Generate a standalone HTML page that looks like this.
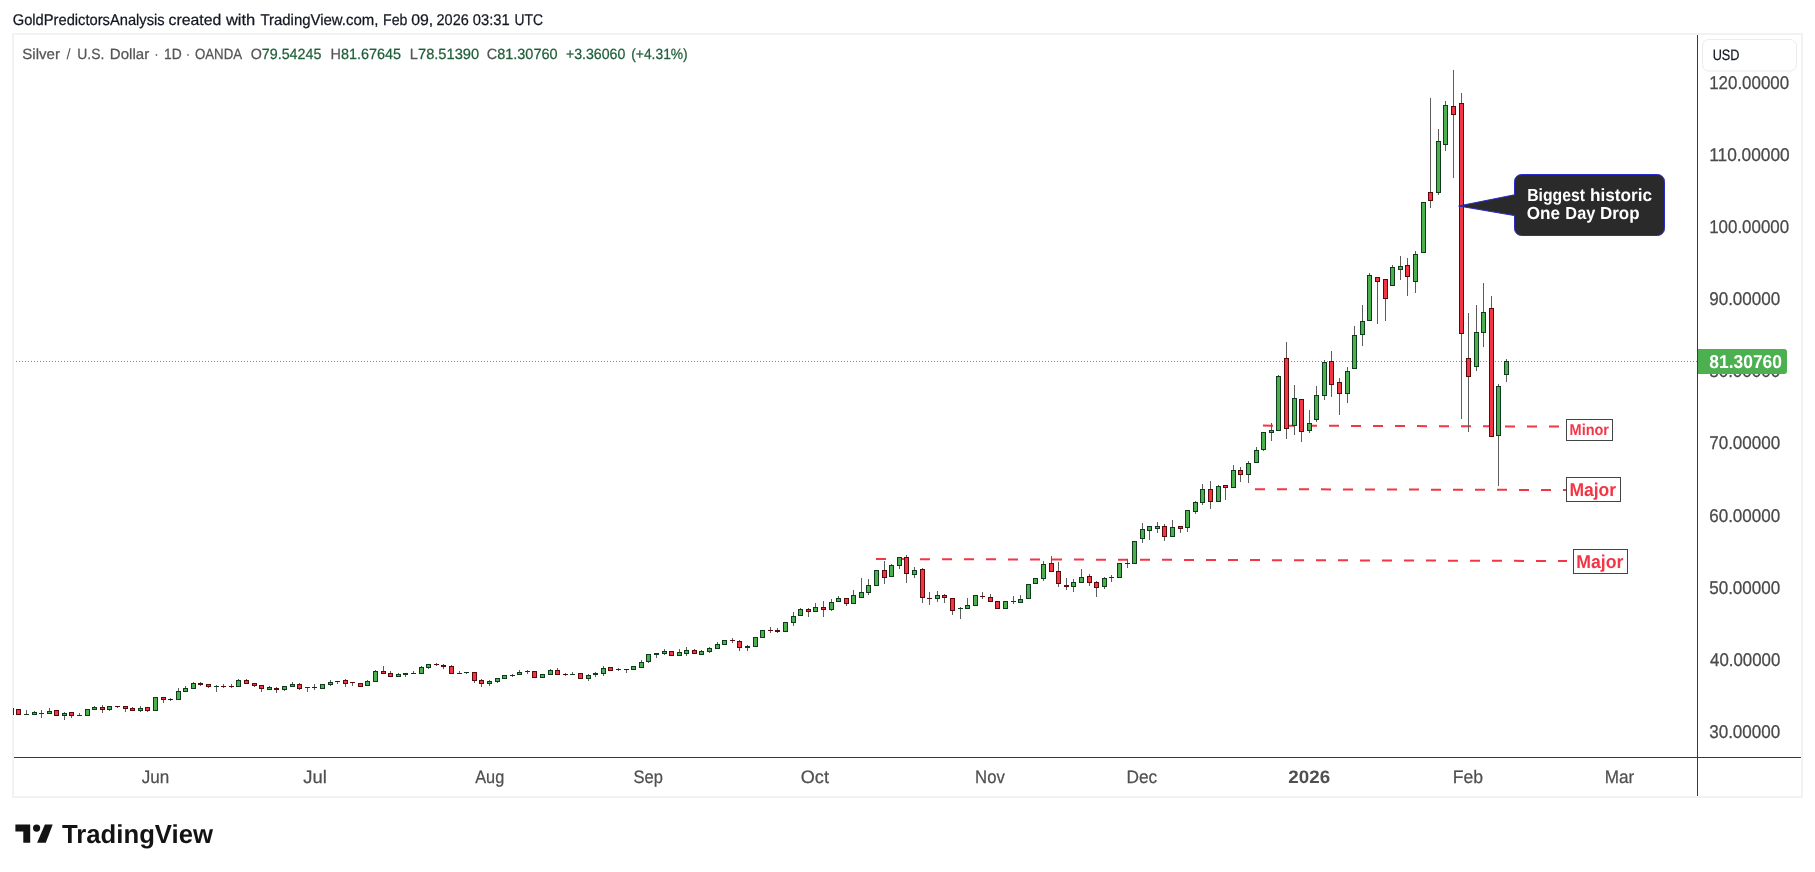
<!DOCTYPE html>
<html><head><meta charset="utf-8"><title>Silver / U.S. Dollar</title>
<style>html,body{margin:0;padding:0;background:#fff;width:1815px;height:872px;overflow:hidden;position:relative}</style>
</head><body>
<svg width="1815" height="872" viewBox="0 0 1815 872" style="position:absolute;left:0;top:0;font-family:'Liberation Sans', sans-serif;will-change:transform;text-rendering:geometricPrecision"><rect x="0" y="0" width="1815" height="872" fill="#ffffff"/><g shape-rendering="crispEdges"><rect x="12" y="33" width="1791" height="2" fill="#f2f2f2"/><rect x="12" y="33" width="2" height="765" fill="#f2f2f2"/><rect x="1801" y="33" width="2" height="765" fill="#f2f2f2"/><rect x="12" y="796" width="1791" height="2" fill="#f2f2f2"/></g><rect x="1702.5" y="39.5" width="94" height="31.5" rx="6.5" fill="#ffffff" stroke="#ebebeb" stroke-width="1"/><g shape-rendering="crispEdges"><rect x="1697" y="35" width="1" height="761" fill="#3a3a3a"/><rect x="14" y="757" width="1787" height="1" fill="#3a3a3a"/></g><line x1="16" y1="361.5" x2="1697" y2="361.5" stroke="#4caf50" stroke-width="1" stroke-dasharray="1 2"/><line x1="876" y1="559" x2="1567" y2="561" stroke="#f23645" stroke-width="2" stroke-dasharray="10 12"/><line x1="1263" y1="425.6" x2="1562" y2="426.6" stroke="#f23645" stroke-width="2" stroke-dasharray="10 12"/><line x1="1255" y1="489.2" x2="1566" y2="490" stroke="#f23645" stroke-width="2" stroke-dasharray="10 12"/><defs><clipPath id="pane"><rect x="13" y="35" width="1684" height="722"/></clipPath></defs><g shape-rendering="crispEdges" clip-path="url(#pane)"><rect x="11" y="708" width="1" height="7" fill="#5d5d5d"/><rect x="9" y="708" width="5" height="7" fill="#0e3b1c"/><rect x="10" y="709" width="3" height="5" fill="#4caf50"/><rect x="18" y="709" width="1" height="6" fill="#5d5d5d"/><rect x="16" y="709" width="5" height="6" fill="#5a0a0a"/><rect x="17" y="710" width="3" height="4" fill="#f23645"/><rect x="26" y="710" width="1" height="5" fill="#5d5d5d"/><rect x="24" y="714" width="5" height="1" fill="#0e3b1c"/><rect x="34" y="711" width="1" height="4" fill="#5d5d5d"/><rect x="32" y="712" width="5" height="3" fill="#0e3b1c"/><rect x="33" y="713" width="3" height="1" fill="#4caf50"/><rect x="41" y="710" width="1" height="8" fill="#5d5d5d"/><rect x="39" y="713" width="5" height="1" fill="#0e3b1c"/><rect x="49" y="708" width="1" height="6" fill="#5d5d5d"/><rect x="47" y="711" width="5" height="3" fill="#0e3b1c"/><rect x="48" y="712" width="3" height="1" fill="#4caf50"/><rect x="56" y="710" width="1" height="6" fill="#5d5d5d"/><rect x="54" y="710" width="5" height="6" fill="#5a0a0a"/><rect x="55" y="711" width="3" height="4" fill="#f23645"/><rect x="64" y="712" width="1" height="8" fill="#5d5d5d"/><rect x="62" y="713" width="5" height="3" fill="#0e3b1c"/><rect x="63" y="714" width="3" height="1" fill="#4caf50"/><rect x="71" y="712" width="1" height="6" fill="#5d5d5d"/><rect x="69" y="712" width="5" height="4" fill="#5a0a0a"/><rect x="70" y="713" width="3" height="2" fill="#f23645"/><rect x="79" y="713" width="1" height="3" fill="#5d5d5d"/><rect x="77" y="715" width="5" height="1" fill="#0e3b1c"/><rect x="87" y="709" width="1" height="7" fill="#5d5d5d"/><rect x="85" y="709" width="5" height="7" fill="#0e3b1c"/><rect x="86" y="710" width="3" height="5" fill="#4caf50"/><rect x="94" y="706" width="1" height="4" fill="#5d5d5d"/><rect x="92" y="707" width="5" height="3" fill="#0e3b1c"/><rect x="93" y="708" width="3" height="1" fill="#4caf50"/><rect x="102" y="705" width="1" height="8" fill="#5d5d5d"/><rect x="100" y="707" width="5" height="3" fill="#5a0a0a"/><rect x="101" y="708" width="3" height="1" fill="#f23645"/><rect x="109" y="706" width="1" height="5" fill="#5d5d5d"/><rect x="107" y="706" width="5" height="4" fill="#0e3b1c"/><rect x="108" y="707" width="3" height="2" fill="#4caf50"/><rect x="117" y="706" width="1" height="2" fill="#5d5d5d"/><rect x="115" y="706" width="5" height="1" fill="#5a0a0a"/><rect x="125" y="706" width="1" height="6" fill="#5d5d5d"/><rect x="123" y="706" width="5" height="3" fill="#5a0a0a"/><rect x="124" y="707" width="3" height="1" fill="#f23645"/><rect x="132" y="707" width="1" height="4" fill="#5d5d5d"/><rect x="130" y="708" width="5" height="3" fill="#5a0a0a"/><rect x="131" y="709" width="3" height="1" fill="#f23645"/><rect x="140" y="706" width="1" height="6" fill="#5d5d5d"/><rect x="138" y="708" width="5" height="3" fill="#0e3b1c"/><rect x="139" y="709" width="3" height="1" fill="#4caf50"/><rect x="147" y="707" width="1" height="5" fill="#5d5d5d"/><rect x="145" y="707" width="5" height="4" fill="#5a0a0a"/><rect x="146" y="708" width="3" height="2" fill="#f23645"/><rect x="155" y="697" width="1" height="14" fill="#5d5d5d"/><rect x="153" y="697" width="5" height="14" fill="#0e3b1c"/><rect x="154" y="698" width="3" height="12" fill="#4caf50"/><rect x="163" y="697" width="1" height="6" fill="#5d5d5d"/><rect x="161" y="697" width="5" height="3" fill="#5a0a0a"/><rect x="162" y="698" width="3" height="1" fill="#f23645"/><rect x="170" y="698" width="1" height="3" fill="#5d5d5d"/><rect x="168" y="699" width="5" height="1" fill="#5a0a0a"/><rect x="178" y="688" width="1" height="12" fill="#5d5d5d"/><rect x="176" y="691" width="5" height="9" fill="#0e3b1c"/><rect x="177" y="692" width="3" height="7" fill="#4caf50"/><rect x="185" y="686" width="1" height="6" fill="#5d5d5d"/><rect x="183" y="688" width="5" height="4" fill="#0e3b1c"/><rect x="184" y="689" width="3" height="2" fill="#4caf50"/><rect x="193" y="682" width="1" height="7" fill="#5d5d5d"/><rect x="191" y="683" width="5" height="6" fill="#0e3b1c"/><rect x="192" y="684" width="3" height="4" fill="#4caf50"/><rect x="200" y="682" width="1" height="4" fill="#5d5d5d"/><rect x="198" y="683" width="5" height="2" fill="#5a0a0a"/><rect x="208" y="684" width="1" height="4" fill="#5d5d5d"/><rect x="206" y="684" width="5" height="3" fill="#5a0a0a"/><rect x="207" y="685" width="3" height="1" fill="#f23645"/><rect x="216" y="685" width="1" height="7" fill="#5d5d5d"/><rect x="214" y="686" width="5" height="1" fill="#0e3b1c"/><rect x="223" y="684" width="1" height="4" fill="#5d5d5d"/><rect x="221" y="686" width="5" height="1" fill="#5a0a0a"/><rect x="231" y="684" width="1" height="4" fill="#5d5d5d"/><rect x="229" y="686" width="5" height="1" fill="#5a0a0a"/><rect x="238" y="679" width="1" height="8" fill="#5d5d5d"/><rect x="236" y="680" width="5" height="7" fill="#0e3b1c"/><rect x="237" y="681" width="3" height="5" fill="#4caf50"/><rect x="246" y="679" width="1" height="5" fill="#5d5d5d"/><rect x="244" y="680" width="5" height="4" fill="#5a0a0a"/><rect x="245" y="681" width="3" height="2" fill="#f23645"/><rect x="254" y="683" width="1" height="4" fill="#5d5d5d"/><rect x="252" y="683" width="5" height="3" fill="#5a0a0a"/><rect x="253" y="684" width="3" height="1" fill="#f23645"/><rect x="261" y="685" width="1" height="7" fill="#5d5d5d"/><rect x="259" y="685" width="5" height="4" fill="#5a0a0a"/><rect x="260" y="686" width="3" height="2" fill="#f23645"/><rect x="269" y="686" width="1" height="4" fill="#5d5d5d"/><rect x="267" y="687" width="5" height="3" fill="#0e3b1c"/><rect x="268" y="688" width="3" height="1" fill="#4caf50"/><rect x="276" y="687" width="1" height="6" fill="#5d5d5d"/><rect x="274" y="688" width="5" height="2" fill="#5a0a0a"/><rect x="284" y="686" width="1" height="5" fill="#5d5d5d"/><rect x="282" y="686" width="5" height="4" fill="#0e3b1c"/><rect x="283" y="687" width="3" height="2" fill="#4caf50"/><rect x="292" y="682" width="1" height="5" fill="#5d5d5d"/><rect x="290" y="684" width="5" height="3" fill="#0e3b1c"/><rect x="291" y="685" width="3" height="1" fill="#4caf50"/><rect x="299" y="683" width="1" height="7" fill="#5d5d5d"/><rect x="297" y="684" width="5" height="5" fill="#5a0a0a"/><rect x="298" y="685" width="3" height="3" fill="#f23645"/><rect x="307" y="687" width="1" height="5" fill="#5d5d5d"/><rect x="305" y="687" width="5" height="1" fill="#0e3b1c"/><rect x="314" y="684" width="1" height="6" fill="#5d5d5d"/><rect x="312" y="687" width="5" height="1" fill="#5a0a0a"/><rect x="322" y="684" width="1" height="5" fill="#5d5d5d"/><rect x="320" y="684" width="5" height="5" fill="#0e3b1c"/><rect x="321" y="685" width="3" height="3" fill="#4caf50"/><rect x="330" y="680" width="1" height="6" fill="#5d5d5d"/><rect x="328" y="682" width="5" height="3" fill="#0e3b1c"/><rect x="329" y="683" width="3" height="1" fill="#4caf50"/><rect x="337" y="681" width="1" height="3" fill="#5d5d5d"/><rect x="335" y="681" width="5" height="1" fill="#0e3b1c"/><rect x="345" y="679" width="1" height="8" fill="#5d5d5d"/><rect x="343" y="680" width="5" height="4" fill="#5a0a0a"/><rect x="344" y="681" width="3" height="2" fill="#f23645"/><rect x="352" y="682" width="1" height="4" fill="#5d5d5d"/><rect x="350" y="682" width="5" height="1" fill="#5a0a0a"/><rect x="360" y="683" width="1" height="4" fill="#5d5d5d"/><rect x="358" y="683" width="5" height="4" fill="#5a0a0a"/><rect x="359" y="684" width="3" height="2" fill="#f23645"/><rect x="367" y="680" width="1" height="6" fill="#5d5d5d"/><rect x="365" y="681" width="5" height="5" fill="#0e3b1c"/><rect x="366" y="682" width="3" height="3" fill="#4caf50"/><rect x="375" y="670" width="1" height="12" fill="#5d5d5d"/><rect x="373" y="671" width="5" height="11" fill="#0e3b1c"/><rect x="374" y="672" width="3" height="9" fill="#4caf50"/><rect x="383" y="666" width="1" height="8" fill="#5d5d5d"/><rect x="381" y="671" width="5" height="3" fill="#5a0a0a"/><rect x="382" y="672" width="3" height="1" fill="#f23645"/><rect x="390" y="671" width="1" height="6" fill="#5d5d5d"/><rect x="388" y="673" width="5" height="4" fill="#5a0a0a"/><rect x="389" y="674" width="3" height="2" fill="#f23645"/><rect x="398" y="673" width="1" height="4" fill="#5d5d5d"/><rect x="396" y="674" width="5" height="3" fill="#0e3b1c"/><rect x="397" y="675" width="3" height="1" fill="#4caf50"/><rect x="405" y="673" width="1" height="4" fill="#5d5d5d"/><rect x="403" y="673" width="5" height="2" fill="#0e3b1c"/><rect x="413" y="671" width="1" height="3" fill="#5d5d5d"/><rect x="411" y="673" width="5" height="1" fill="#0e3b1c"/><rect x="421" y="666" width="1" height="8" fill="#5d5d5d"/><rect x="419" y="667" width="5" height="7" fill="#0e3b1c"/><rect x="420" y="668" width="3" height="5" fill="#4caf50"/><rect x="428" y="664" width="1" height="5" fill="#5d5d5d"/><rect x="426" y="664" width="5" height="4" fill="#0e3b1c"/><rect x="427" y="665" width="3" height="2" fill="#4caf50"/><rect x="436" y="663" width="1" height="3" fill="#5d5d5d"/><rect x="434" y="664" width="5" height="1" fill="#5a0a0a"/><rect x="443" y="664" width="1" height="5" fill="#5d5d5d"/><rect x="441" y="665" width="5" height="2" fill="#5a0a0a"/><rect x="451" y="665" width="1" height="9" fill="#5d5d5d"/><rect x="449" y="666" width="5" height="8" fill="#5a0a0a"/><rect x="450" y="667" width="3" height="6" fill="#f23645"/><rect x="459" y="671" width="1" height="3" fill="#5d5d5d"/><rect x="457" y="673" width="5" height="1" fill="#0e3b1c"/><rect x="466" y="672" width="1" height="2" fill="#5d5d5d"/><rect x="464" y="672" width="5" height="1" fill="#0e3b1c"/><rect x="474" y="672" width="1" height="11" fill="#5d5d5d"/><rect x="472" y="672" width="5" height="9" fill="#5a0a0a"/><rect x="473" y="673" width="3" height="7" fill="#f23645"/><rect x="481" y="679" width="1" height="8" fill="#5d5d5d"/><rect x="479" y="680" width="5" height="4" fill="#5a0a0a"/><rect x="480" y="681" width="3" height="2" fill="#f23645"/><rect x="489" y="680" width="1" height="6" fill="#5d5d5d"/><rect x="487" y="681" width="5" height="3" fill="#0e3b1c"/><rect x="488" y="682" width="3" height="1" fill="#4caf50"/><rect x="497" y="678" width="1" height="5" fill="#5d5d5d"/><rect x="495" y="678" width="5" height="4" fill="#0e3b1c"/><rect x="496" y="679" width="3" height="2" fill="#4caf50"/><rect x="504" y="675" width="1" height="4" fill="#5d5d5d"/><rect x="502" y="675" width="5" height="4" fill="#0e3b1c"/><rect x="503" y="676" width="3" height="2" fill="#4caf50"/><rect x="512" y="674" width="1" height="3" fill="#5d5d5d"/><rect x="510" y="675" width="5" height="1" fill="#0e3b1c"/><rect x="519" y="670" width="1" height="5" fill="#5d5d5d"/><rect x="517" y="672" width="5" height="3" fill="#0e3b1c"/><rect x="518" y="673" width="3" height="1" fill="#4caf50"/><rect x="527" y="670" width="1" height="4" fill="#5d5d5d"/><rect x="525" y="671" width="5" height="1" fill="#0e3b1c"/><rect x="534" y="671" width="1" height="7" fill="#5d5d5d"/><rect x="532" y="671" width="5" height="7" fill="#5a0a0a"/><rect x="533" y="672" width="3" height="5" fill="#f23645"/><rect x="542" y="674" width="1" height="4" fill="#5d5d5d"/><rect x="540" y="674" width="5" height="4" fill="#0e3b1c"/><rect x="541" y="675" width="3" height="2" fill="#4caf50"/><rect x="550" y="669" width="1" height="6" fill="#5d5d5d"/><rect x="548" y="670" width="5" height="5" fill="#0e3b1c"/><rect x="549" y="671" width="3" height="3" fill="#4caf50"/><rect x="557" y="668" width="1" height="7" fill="#5d5d5d"/><rect x="555" y="670" width="5" height="5" fill="#5a0a0a"/><rect x="556" y="671" width="3" height="3" fill="#f23645"/><rect x="565" y="673" width="1" height="3" fill="#5d5d5d"/><rect x="563" y="674" width="5" height="1" fill="#5a0a0a"/><rect x="572" y="672" width="1" height="3" fill="#5d5d5d"/><rect x="570" y="674" width="5" height="1" fill="#0e3b1c"/><rect x="580" y="673" width="1" height="6" fill="#5d5d5d"/><rect x="578" y="673" width="5" height="6" fill="#5a0a0a"/><rect x="579" y="674" width="3" height="4" fill="#f23645"/><rect x="588" y="674" width="1" height="7" fill="#5d5d5d"/><rect x="586" y="675" width="5" height="4" fill="#0e3b1c"/><rect x="587" y="676" width="3" height="2" fill="#4caf50"/><rect x="595" y="672" width="1" height="5" fill="#5d5d5d"/><rect x="593" y="673" width="5" height="2" fill="#0e3b1c"/><rect x="603" y="666" width="1" height="10" fill="#5d5d5d"/><rect x="601" y="668" width="5" height="6" fill="#0e3b1c"/><rect x="602" y="669" width="3" height="4" fill="#4caf50"/><rect x="610" y="667" width="1" height="4" fill="#5d5d5d"/><rect x="608" y="667" width="5" height="4" fill="#5a0a0a"/><rect x="609" y="668" width="3" height="2" fill="#f23645"/><rect x="618" y="668" width="1" height="3" fill="#5d5d5d"/><rect x="616" y="669" width="5" height="1" fill="#0e3b1c"/><rect x="626" y="669" width="1" height="4" fill="#5d5d5d"/><rect x="624" y="669" width="5" height="1" fill="#5a0a0a"/><rect x="633" y="666" width="1" height="4" fill="#5d5d5d"/><rect x="631" y="666" width="5" height="4" fill="#0e3b1c"/><rect x="632" y="667" width="3" height="2" fill="#4caf50"/><rect x="641" y="660" width="1" height="8" fill="#5d5d5d"/><rect x="639" y="662" width="5" height="6" fill="#0e3b1c"/><rect x="640" y="663" width="3" height="4" fill="#4caf50"/><rect x="648" y="654" width="1" height="9" fill="#5d5d5d"/><rect x="646" y="654" width="5" height="8" fill="#0e3b1c"/><rect x="647" y="655" width="3" height="6" fill="#4caf50"/><rect x="656" y="653" width="1" height="5" fill="#5d5d5d"/><rect x="654" y="653" width="5" height="2" fill="#0e3b1c"/><rect x="664" y="649" width="1" height="6" fill="#5d5d5d"/><rect x="662" y="651" width="5" height="3" fill="#0e3b1c"/><rect x="663" y="652" width="3" height="1" fill="#4caf50"/><rect x="671" y="651" width="1" height="5" fill="#5d5d5d"/><rect x="669" y="651" width="5" height="5" fill="#5a0a0a"/><rect x="670" y="652" width="3" height="3" fill="#f23645"/><rect x="679" y="649" width="1" height="7" fill="#5d5d5d"/><rect x="677" y="652" width="5" height="4" fill="#0e3b1c"/><rect x="678" y="653" width="3" height="2" fill="#4caf50"/><rect x="686" y="647" width="1" height="9" fill="#5d5d5d"/><rect x="684" y="650" width="5" height="4" fill="#0e3b1c"/><rect x="685" y="651" width="3" height="2" fill="#4caf50"/><rect x="694" y="649" width="1" height="5" fill="#5d5d5d"/><rect x="692" y="650" width="5" height="4" fill="#5a0a0a"/><rect x="693" y="651" width="3" height="2" fill="#f23645"/><rect x="701" y="650" width="1" height="5" fill="#5d5d5d"/><rect x="699" y="651" width="5" height="4" fill="#0e3b1c"/><rect x="700" y="652" width="3" height="2" fill="#4caf50"/><rect x="709" y="647" width="1" height="6" fill="#5d5d5d"/><rect x="707" y="648" width="5" height="4" fill="#0e3b1c"/><rect x="708" y="649" width="3" height="2" fill="#4caf50"/><rect x="717" y="642" width="1" height="7" fill="#5d5d5d"/><rect x="715" y="644" width="5" height="5" fill="#0e3b1c"/><rect x="716" y="645" width="3" height="3" fill="#4caf50"/><rect x="724" y="640" width="1" height="5" fill="#5d5d5d"/><rect x="722" y="640" width="5" height="5" fill="#0e3b1c"/><rect x="723" y="641" width="3" height="3" fill="#4caf50"/><rect x="732" y="638" width="1" height="5" fill="#5d5d5d"/><rect x="730" y="640" width="5" height="1" fill="#5a0a0a"/><rect x="739" y="640" width="1" height="11" fill="#5d5d5d"/><rect x="737" y="641" width="5" height="7" fill="#5a0a0a"/><rect x="738" y="642" width="3" height="5" fill="#f23645"/><rect x="747" y="645" width="1" height="6" fill="#5d5d5d"/><rect x="745" y="646" width="5" height="2" fill="#0e3b1c"/><rect x="755" y="637" width="1" height="10" fill="#5d5d5d"/><rect x="753" y="637" width="5" height="10" fill="#0e3b1c"/><rect x="754" y="638" width="3" height="8" fill="#4caf50"/><rect x="762" y="630" width="1" height="8" fill="#5d5d5d"/><rect x="760" y="630" width="5" height="8" fill="#0e3b1c"/><rect x="761" y="631" width="3" height="6" fill="#4caf50"/><rect x="770" y="627" width="1" height="6" fill="#5d5d5d"/><rect x="768" y="630" width="5" height="1" fill="#5a0a0a"/><rect x="777" y="628" width="1" height="5" fill="#5d5d5d"/><rect x="775" y="630" width="5" height="2" fill="#5a0a0a"/><rect x="785" y="622" width="1" height="10" fill="#5d5d5d"/><rect x="783" y="622" width="5" height="10" fill="#0e3b1c"/><rect x="784" y="623" width="3" height="8" fill="#4caf50"/><rect x="793" y="612" width="1" height="14" fill="#5d5d5d"/><rect x="791" y="616" width="5" height="7" fill="#0e3b1c"/><rect x="792" y="617" width="3" height="5" fill="#4caf50"/><rect x="800" y="608" width="1" height="8" fill="#5d5d5d"/><rect x="798" y="609" width="5" height="7" fill="#0e3b1c"/><rect x="799" y="610" width="3" height="5" fill="#4caf50"/><rect x="808" y="608" width="1" height="9" fill="#5d5d5d"/><rect x="806" y="609" width="5" height="3" fill="#5a0a0a"/><rect x="807" y="610" width="3" height="1" fill="#f23645"/><rect x="815" y="603" width="1" height="9" fill="#5d5d5d"/><rect x="813" y="607" width="5" height="5" fill="#0e3b1c"/><rect x="814" y="608" width="3" height="3" fill="#4caf50"/><rect x="823" y="601" width="1" height="16" fill="#5d5d5d"/><rect x="821" y="607" width="5" height="3" fill="#5a0a0a"/><rect x="822" y="608" width="3" height="1" fill="#f23645"/><rect x="831" y="599" width="1" height="12" fill="#5d5d5d"/><rect x="829" y="602" width="5" height="8" fill="#0e3b1c"/><rect x="830" y="603" width="3" height="6" fill="#4caf50"/><rect x="838" y="596" width="1" height="6" fill="#5d5d5d"/><rect x="836" y="598" width="5" height="4" fill="#0e3b1c"/><rect x="837" y="599" width="3" height="2" fill="#4caf50"/><rect x="846" y="598" width="1" height="8" fill="#5d5d5d"/><rect x="844" y="598" width="5" height="6" fill="#5a0a0a"/><rect x="845" y="599" width="3" height="4" fill="#f23645"/><rect x="853" y="590" width="1" height="14" fill="#5d5d5d"/><rect x="851" y="595" width="5" height="9" fill="#0e3b1c"/><rect x="852" y="596" width="3" height="7" fill="#4caf50"/><rect x="861" y="578" width="1" height="20" fill="#5d5d5d"/><rect x="859" y="592" width="5" height="6" fill="#0e3b1c"/><rect x="860" y="593" width="3" height="4" fill="#4caf50"/><rect x="868" y="579" width="1" height="16" fill="#5d5d5d"/><rect x="866" y="585" width="5" height="8" fill="#0e3b1c"/><rect x="867" y="586" width="3" height="6" fill="#4caf50"/><rect x="876" y="570" width="1" height="16" fill="#5d5d5d"/><rect x="874" y="570" width="5" height="16" fill="#0e3b1c"/><rect x="875" y="571" width="3" height="14" fill="#4caf50"/><rect x="884" y="561" width="1" height="23" fill="#5d5d5d"/><rect x="882" y="570" width="5" height="8" fill="#5a0a0a"/><rect x="883" y="571" width="3" height="6" fill="#f23645"/><rect x="891" y="564" width="1" height="13" fill="#5d5d5d"/><rect x="889" y="565" width="5" height="12" fill="#0e3b1c"/><rect x="890" y="566" width="3" height="10" fill="#4caf50"/><rect x="899" y="557" width="1" height="12" fill="#5d5d5d"/><rect x="897" y="557" width="5" height="9" fill="#0e3b1c"/><rect x="898" y="558" width="3" height="7" fill="#4caf50"/><rect x="906" y="555" width="1" height="28" fill="#5d5d5d"/><rect x="904" y="557" width="5" height="17" fill="#5a0a0a"/><rect x="905" y="558" width="3" height="15" fill="#f23645"/><rect x="914" y="567" width="1" height="11" fill="#5d5d5d"/><rect x="912" y="570" width="5" height="5" fill="#0e3b1c"/><rect x="913" y="571" width="3" height="3" fill="#4caf50"/><rect x="922" y="568" width="1" height="35" fill="#5d5d5d"/><rect x="920" y="569" width="5" height="29" fill="#5a0a0a"/><rect x="921" y="570" width="3" height="27" fill="#f23645"/><rect x="929" y="592" width="1" height="13" fill="#5d5d5d"/><rect x="927" y="598" width="5" height="1" fill="#5a0a0a"/><rect x="937" y="591" width="1" height="11" fill="#5d5d5d"/><rect x="935" y="595" width="5" height="4" fill="#0e3b1c"/><rect x="936" y="596" width="3" height="2" fill="#4caf50"/><rect x="944" y="594" width="1" height="9" fill="#5d5d5d"/><rect x="942" y="595" width="5" height="3" fill="#5a0a0a"/><rect x="943" y="596" width="3" height="1" fill="#f23645"/><rect x="952" y="598" width="1" height="17" fill="#5d5d5d"/><rect x="950" y="598" width="5" height="13" fill="#5a0a0a"/><rect x="951" y="599" width="3" height="11" fill="#f23645"/><rect x="960" y="607" width="1" height="12" fill="#5d5d5d"/><rect x="958" y="608" width="5" height="1" fill="#0e3b1c"/><rect x="967" y="598" width="1" height="11" fill="#5d5d5d"/><rect x="965" y="605" width="5" height="4" fill="#0e3b1c"/><rect x="966" y="606" width="3" height="2" fill="#4caf50"/><rect x="975" y="595" width="1" height="11" fill="#5d5d5d"/><rect x="973" y="595" width="5" height="11" fill="#0e3b1c"/><rect x="974" y="596" width="3" height="9" fill="#4caf50"/><rect x="982" y="592" width="1" height="7" fill="#5d5d5d"/><rect x="980" y="596" width="5" height="1" fill="#5a0a0a"/><rect x="990" y="594" width="1" height="8" fill="#5d5d5d"/><rect x="988" y="597" width="5" height="5" fill="#5a0a0a"/><rect x="989" y="598" width="3" height="3" fill="#f23645"/><rect x="997" y="601" width="1" height="8" fill="#5d5d5d"/><rect x="995" y="601" width="5" height="8" fill="#5a0a0a"/><rect x="996" y="602" width="3" height="6" fill="#f23645"/><rect x="1005" y="601" width="1" height="8" fill="#5d5d5d"/><rect x="1003" y="601" width="5" height="8" fill="#0e3b1c"/><rect x="1004" y="602" width="3" height="6" fill="#4caf50"/><rect x="1013" y="596" width="1" height="8" fill="#5d5d5d"/><rect x="1011" y="601" width="5" height="1" fill="#0e3b1c"/><rect x="1020" y="595" width="1" height="8" fill="#5d5d5d"/><rect x="1018" y="599" width="5" height="4" fill="#0e3b1c"/><rect x="1019" y="600" width="3" height="2" fill="#4caf50"/><rect x="1028" y="584" width="1" height="15" fill="#5d5d5d"/><rect x="1026" y="584" width="5" height="15" fill="#0e3b1c"/><rect x="1027" y="585" width="3" height="13" fill="#4caf50"/><rect x="1035" y="578" width="1" height="6" fill="#5d5d5d"/><rect x="1033" y="578" width="5" height="6" fill="#0e3b1c"/><rect x="1034" y="579" width="3" height="4" fill="#4caf50"/><rect x="1043" y="561" width="1" height="20" fill="#5d5d5d"/><rect x="1041" y="564" width="5" height="15" fill="#0e3b1c"/><rect x="1042" y="565" width="3" height="13" fill="#4caf50"/><rect x="1051" y="556" width="1" height="16" fill="#5d5d5d"/><rect x="1049" y="563" width="5" height="9" fill="#5a0a0a"/><rect x="1050" y="564" width="3" height="7" fill="#f23645"/><rect x="1058" y="562" width="1" height="25" fill="#5d5d5d"/><rect x="1056" y="571" width="5" height="13" fill="#5a0a0a"/><rect x="1057" y="572" width="3" height="11" fill="#f23645"/><rect x="1066" y="578" width="1" height="12" fill="#5d5d5d"/><rect x="1064" y="585" width="5" height="2" fill="#5a0a0a"/><rect x="1073" y="579" width="1" height="13" fill="#5d5d5d"/><rect x="1071" y="582" width="5" height="5" fill="#0e3b1c"/><rect x="1072" y="583" width="3" height="3" fill="#4caf50"/><rect x="1081" y="569" width="1" height="14" fill="#5d5d5d"/><rect x="1079" y="577" width="5" height="6" fill="#0e3b1c"/><rect x="1080" y="578" width="3" height="4" fill="#4caf50"/><rect x="1089" y="574" width="1" height="12" fill="#5d5d5d"/><rect x="1087" y="576" width="5" height="7" fill="#5a0a0a"/><rect x="1088" y="577" width="3" height="5" fill="#f23645"/><rect x="1096" y="581" width="1" height="16" fill="#5d5d5d"/><rect x="1094" y="582" width="5" height="6" fill="#5a0a0a"/><rect x="1095" y="583" width="3" height="4" fill="#f23645"/><rect x="1104" y="577" width="1" height="12" fill="#5d5d5d"/><rect x="1102" y="578" width="5" height="9" fill="#0e3b1c"/><rect x="1103" y="579" width="3" height="7" fill="#4caf50"/><rect x="1111" y="575" width="1" height="7" fill="#5d5d5d"/><rect x="1109" y="577" width="5" height="1" fill="#0e3b1c"/><rect x="1119" y="563" width="1" height="15" fill="#5d5d5d"/><rect x="1117" y="563" width="5" height="15" fill="#0e3b1c"/><rect x="1118" y="564" width="3" height="13" fill="#4caf50"/><rect x="1127" y="559" width="1" height="9" fill="#5d5d5d"/><rect x="1125" y="563" width="5" height="1" fill="#0e3b1c"/><rect x="1134" y="541" width="1" height="23" fill="#5d5d5d"/><rect x="1132" y="541" width="5" height="23" fill="#0e3b1c"/><rect x="1133" y="542" width="3" height="21" fill="#4caf50"/><rect x="1142" y="523" width="1" height="20" fill="#5d5d5d"/><rect x="1140" y="529" width="5" height="10" fill="#0e3b1c"/><rect x="1141" y="530" width="3" height="8" fill="#4caf50"/><rect x="1149" y="526" width="1" height="14" fill="#5d5d5d"/><rect x="1147" y="526" width="5" height="5" fill="#0e3b1c"/><rect x="1148" y="527" width="3" height="3" fill="#4caf50"/><rect x="1157" y="522" width="1" height="11" fill="#5d5d5d"/><rect x="1155" y="526" width="5" height="3" fill="#0e3b1c"/><rect x="1156" y="527" width="3" height="1" fill="#4caf50"/><rect x="1164" y="524" width="1" height="17" fill="#5d5d5d"/><rect x="1162" y="526" width="5" height="11" fill="#5a0a0a"/><rect x="1163" y="527" width="3" height="9" fill="#f23645"/><rect x="1172" y="520" width="1" height="17" fill="#5d5d5d"/><rect x="1170" y="527" width="5" height="10" fill="#0e3b1c"/><rect x="1171" y="528" width="3" height="8" fill="#4caf50"/><rect x="1180" y="526" width="1" height="7" fill="#5d5d5d"/><rect x="1178" y="526" width="5" height="3" fill="#5a0a0a"/><rect x="1179" y="527" width="3" height="1" fill="#f23645"/><rect x="1187" y="510" width="1" height="22" fill="#5d5d5d"/><rect x="1185" y="510" width="5" height="18" fill="#0e3b1c"/><rect x="1186" y="511" width="3" height="16" fill="#4caf50"/><rect x="1195" y="501" width="1" height="13" fill="#5d5d5d"/><rect x="1193" y="502" width="5" height="10" fill="#0e3b1c"/><rect x="1194" y="503" width="3" height="8" fill="#4caf50"/><rect x="1202" y="484" width="1" height="21" fill="#5d5d5d"/><rect x="1200" y="489" width="5" height="14" fill="#0e3b1c"/><rect x="1201" y="490" width="3" height="12" fill="#4caf50"/><rect x="1210" y="481" width="1" height="28" fill="#5d5d5d"/><rect x="1208" y="489" width="5" height="13" fill="#5a0a0a"/><rect x="1209" y="490" width="3" height="11" fill="#f23645"/><rect x="1218" y="485" width="1" height="17" fill="#5d5d5d"/><rect x="1216" y="486" width="5" height="16" fill="#0e3b1c"/><rect x="1217" y="487" width="3" height="14" fill="#4caf50"/><rect x="1225" y="485" width="1" height="15" fill="#5d5d5d"/><rect x="1223" y="485" width="5" height="3" fill="#5a0a0a"/><rect x="1224" y="486" width="3" height="1" fill="#f23645"/><rect x="1233" y="465" width="1" height="23" fill="#5d5d5d"/><rect x="1231" y="470" width="5" height="18" fill="#0e3b1c"/><rect x="1232" y="471" width="3" height="16" fill="#4caf50"/><rect x="1240" y="467" width="1" height="15" fill="#5d5d5d"/><rect x="1238" y="470" width="5" height="5" fill="#5a0a0a"/><rect x="1239" y="471" width="3" height="3" fill="#f23645"/><rect x="1248" y="461" width="1" height="22" fill="#5d5d5d"/><rect x="1246" y="463" width="5" height="12" fill="#0e3b1c"/><rect x="1247" y="464" width="3" height="10" fill="#4caf50"/><rect x="1256" y="447" width="1" height="16" fill="#5d5d5d"/><rect x="1254" y="450" width="5" height="13" fill="#0e3b1c"/><rect x="1255" y="451" width="3" height="11" fill="#4caf50"/><rect x="1263" y="432" width="1" height="19" fill="#5d5d5d"/><rect x="1261" y="432" width="5" height="18" fill="#0e3b1c"/><rect x="1262" y="433" width="3" height="16" fill="#4caf50"/><rect x="1271" y="423" width="1" height="18" fill="#5d5d5d"/><rect x="1269" y="430" width="5" height="3" fill="#0e3b1c"/><rect x="1270" y="431" width="3" height="1" fill="#4caf50"/><rect x="1278" y="375" width="1" height="56" fill="#5d5d5d"/><rect x="1276" y="376" width="5" height="55" fill="#0e3b1c"/><rect x="1277" y="377" width="3" height="53" fill="#4caf50"/><rect x="1286" y="342" width="1" height="97" fill="#5d5d5d"/><rect x="1284" y="358" width="5" height="71" fill="#5a0a0a"/><rect x="1285" y="359" width="3" height="69" fill="#f23645"/><rect x="1294" y="385" width="1" height="50" fill="#5d5d5d"/><rect x="1292" y="398" width="5" height="28" fill="#0e3b1c"/><rect x="1293" y="399" width="3" height="26" fill="#4caf50"/><rect x="1301" y="399" width="1" height="43" fill="#5d5d5d"/><rect x="1299" y="399" width="5" height="33" fill="#5a0a0a"/><rect x="1300" y="400" width="3" height="31" fill="#f23645"/><rect x="1309" y="410" width="1" height="23" fill="#5d5d5d"/><rect x="1307" y="423" width="5" height="8" fill="#0e3b1c"/><rect x="1308" y="424" width="3" height="6" fill="#4caf50"/><rect x="1316" y="386" width="1" height="36" fill="#5d5d5d"/><rect x="1314" y="395" width="5" height="25" fill="#0e3b1c"/><rect x="1315" y="396" width="3" height="23" fill="#4caf50"/><rect x="1324" y="360" width="1" height="40" fill="#5d5d5d"/><rect x="1322" y="362" width="5" height="34" fill="#0e3b1c"/><rect x="1323" y="363" width="3" height="32" fill="#4caf50"/><rect x="1331" y="351" width="1" height="46" fill="#5d5d5d"/><rect x="1329" y="361" width="5" height="24" fill="#5a0a0a"/><rect x="1330" y="362" width="3" height="22" fill="#f23645"/><rect x="1339" y="378" width="1" height="37" fill="#5d5d5d"/><rect x="1337" y="382" width="5" height="12" fill="#5a0a0a"/><rect x="1338" y="383" width="3" height="10" fill="#f23645"/><rect x="1347" y="367" width="1" height="36" fill="#5d5d5d"/><rect x="1345" y="371" width="5" height="23" fill="#0e3b1c"/><rect x="1346" y="372" width="3" height="21" fill="#4caf50"/><rect x="1354" y="326" width="1" height="43" fill="#5d5d5d"/><rect x="1352" y="335" width="5" height="34" fill="#0e3b1c"/><rect x="1353" y="336" width="3" height="32" fill="#4caf50"/><rect x="1362" y="305" width="1" height="41" fill="#5d5d5d"/><rect x="1360" y="321" width="5" height="14" fill="#0e3b1c"/><rect x="1361" y="322" width="3" height="12" fill="#4caf50"/><rect x="1369" y="273" width="1" height="48" fill="#5d5d5d"/><rect x="1367" y="275" width="5" height="46" fill="#0e3b1c"/><rect x="1368" y="276" width="3" height="44" fill="#4caf50"/><rect x="1377" y="277" width="1" height="47" fill="#5d5d5d"/><rect x="1375" y="277" width="5" height="5" fill="#5a0a0a"/><rect x="1376" y="278" width="3" height="3" fill="#f23645"/><rect x="1385" y="279" width="1" height="42" fill="#5d5d5d"/><rect x="1383" y="279" width="5" height="20" fill="#5a0a0a"/><rect x="1384" y="280" width="3" height="18" fill="#f23645"/><rect x="1392" y="265" width="1" height="21" fill="#5d5d5d"/><rect x="1390" y="267" width="5" height="19" fill="#0e3b1c"/><rect x="1391" y="268" width="3" height="17" fill="#4caf50"/><rect x="1400" y="256" width="1" height="24" fill="#5d5d5d"/><rect x="1398" y="266" width="5" height="4" fill="#0e3b1c"/><rect x="1399" y="267" width="3" height="2" fill="#4caf50"/><rect x="1407" y="258" width="1" height="38" fill="#5d5d5d"/><rect x="1405" y="265" width="5" height="12" fill="#5a0a0a"/><rect x="1406" y="266" width="3" height="10" fill="#f23645"/><rect x="1415" y="251" width="1" height="42" fill="#5d5d5d"/><rect x="1413" y="254" width="5" height="28" fill="#0e3b1c"/><rect x="1414" y="255" width="3" height="26" fill="#4caf50"/><rect x="1423" y="202" width="1" height="51" fill="#5d5d5d"/><rect x="1421" y="202" width="5" height="51" fill="#0e3b1c"/><rect x="1422" y="203" width="3" height="49" fill="#4caf50"/><rect x="1430" y="98" width="1" height="110" fill="#5d5d5d"/><rect x="1428" y="192" width="5" height="9" fill="#5a0a0a"/><rect x="1429" y="193" width="3" height="7" fill="#f23645"/><rect x="1438" y="129" width="1" height="66" fill="#5d5d5d"/><rect x="1436" y="141" width="5" height="52" fill="#0e3b1c"/><rect x="1437" y="142" width="3" height="50" fill="#4caf50"/><rect x="1445" y="101" width="1" height="50" fill="#5d5d5d"/><rect x="1443" y="105" width="5" height="40" fill="#0e3b1c"/><rect x="1444" y="106" width="3" height="38" fill="#4caf50"/><rect x="1453" y="70" width="1" height="108" fill="#5d5d5d"/><rect x="1451" y="106" width="5" height="9" fill="#5a0a0a"/><rect x="1452" y="107" width="3" height="7" fill="#f23645"/><rect x="1461" y="93" width="1" height="326" fill="#5d5d5d"/><rect x="1459" y="103" width="5" height="231" fill="#5a0a0a"/><rect x="1460" y="104" width="3" height="229" fill="#f23645"/><rect x="1468" y="313" width="1" height="119" fill="#5d5d5d"/><rect x="1466" y="358" width="5" height="19" fill="#5a0a0a"/><rect x="1467" y="359" width="3" height="17" fill="#f23645"/><rect x="1476" y="305" width="1" height="66" fill="#5d5d5d"/><rect x="1474" y="332" width="5" height="35" fill="#0e3b1c"/><rect x="1475" y="333" width="3" height="33" fill="#4caf50"/><rect x="1483" y="283" width="1" height="64" fill="#5d5d5d"/><rect x="1481" y="312" width="5" height="21" fill="#0e3b1c"/><rect x="1482" y="313" width="3" height="19" fill="#4caf50"/><rect x="1491" y="296" width="1" height="141" fill="#5d5d5d"/><rect x="1489" y="308" width="5" height="129" fill="#5a0a0a"/><rect x="1490" y="309" width="3" height="127" fill="#f23645"/><rect x="1498" y="384" width="1" height="102" fill="#5d5d5d"/><rect x="1496" y="386" width="5" height="50" fill="#0e3b1c"/><rect x="1497" y="387" width="3" height="48" fill="#4caf50"/><rect x="1506" y="359" width="1" height="23" fill="#5d5d5d"/><rect x="1504" y="361" width="5" height="14" fill="#0e3b1c"/><rect x="1505" y="362" width="3" height="12" fill="#4caf50"/></g><path d="M1521.5 174.5 H1657.5 a7 7 0 0 1 7 7 V228.5 a7 7 0 0 1 -7 7 H1521.5 a7 7 0 0 1 -7 -7 V215.6 L1458.6 206 L1514.5 194.8 V181.5 a7 7 0 0 1 7 -7 Z" fill="#2a2a2a" stroke="#2a2acc" stroke-width="1"/><rect x="1566.5" y="419.5" width="46.0" height="21.0" fill="#ffffff" stroke="#444444" stroke-width="1"/><rect x="1566.5" y="477.5" width="54.0" height="24.0" fill="#ffffff" stroke="#444444" stroke-width="1"/><rect x="1573.5" y="549.5" width="54.0" height="24.0" fill="#ffffff" stroke="#444444" stroke-width="1"/><g fill="#131313"><path d="M15.4 824.4 H30.2 V842.8 H23.3 V831.5 H15.4 Z"/><circle cx="36.6" cy="828.1" r="3.6"/><path d="M44.9 824.4 H52.7 L45.8 842.8 H37.1 Z"/></g><text x="12.75" y="24.9" font-size="15.5" font-weight="normal" fill="#131722" stroke="#131722" stroke-width="0.25" textLength="151.87" lengthAdjust="spacingAndGlyphs">GoldPredictorsAnalysis</text><text x="168.58" y="24.9" font-size="15.5" font-weight="normal" fill="#131722" stroke="#131722" stroke-width="0.25" textLength="52.74" lengthAdjust="spacingAndGlyphs">created</text><text x="225.9" y="24.9" font-size="15.5" font-weight="normal" fill="#131722" stroke="#131722" stroke-width="0.25" textLength="29.42" lengthAdjust="spacingAndGlyphs">with</text><text x="260.4" y="24.9" font-size="15.5" font-weight="normal" fill="#131722" stroke="#131722" stroke-width="0.25" textLength="118.0" lengthAdjust="spacingAndGlyphs">TradingView.com,</text><text x="383.09" y="24.9" font-size="15.5" font-weight="normal" fill="#131722" stroke="#131722" stroke-width="0.25" textLength="24.37" lengthAdjust="spacingAndGlyphs">Feb</text><text x="411.18" y="24.9" font-size="15.5" font-weight="normal" fill="#131722" stroke="#131722" stroke-width="0.25" textLength="22.02" lengthAdjust="spacingAndGlyphs">09,</text><text x="436.57" y="24.9" font-size="15.5" font-weight="normal" fill="#131722" stroke="#131722" stroke-width="0.25" textLength="32.19" lengthAdjust="spacingAndGlyphs">2026</text><text x="472.85" y="24.9" font-size="15.5" font-weight="normal" fill="#131722" stroke="#131722" stroke-width="0.25" textLength="36.91" lengthAdjust="spacingAndGlyphs">03:31</text><text x="514.51" y="24.9" font-size="15.5" font-weight="normal" fill="#131722" stroke="#131722" stroke-width="0.25" textLength="28.46" lengthAdjust="spacingAndGlyphs">UTC</text><text x="22.28" y="59.0" font-size="14.8" font-weight="normal" fill="#555555" stroke="#555555" stroke-width="0.25" textLength="37.72" lengthAdjust="spacingAndGlyphs">Silver</text><text x="68.48" y="59.0" font-size="14.8" fill="#555555" text-anchor="middle">/</text><text x="77.26" y="59.0" font-size="14.8" font-weight="normal" fill="#555555" stroke="#555555" stroke-width="0.25" textLength="27.08" lengthAdjust="spacingAndGlyphs">U.S.</text><text x="109.88" y="59.0" font-size="14.8" font-weight="normal" fill="#555555" stroke="#555555" stroke-width="0.25" textLength="39.27" lengthAdjust="spacingAndGlyphs">Dollar</text><text x="156.58" y="59.0" font-size="14.8" fill="#555555" text-anchor="middle">·</text><text x="164.06" y="59.0" font-size="14.8" font-weight="normal" fill="#555555" stroke="#555555" stroke-width="0.25" textLength="17.7" lengthAdjust="spacingAndGlyphs">1D</text><text x="187.98" y="59.0" font-size="14.8" fill="#555555" text-anchor="middle">·</text><text x="194.9" y="59.0" font-size="14.8" font-weight="normal" fill="#555555" stroke="#555555" stroke-width="0.25" textLength="47.16" lengthAdjust="spacingAndGlyphs">OANDA</text><text x="250.74" y="59.0" font-size="14.8" font-weight="normal" fill="#1f5f3a" stroke="#1f5f3a" stroke-width="0.25" textLength="70.59" lengthAdjust="spacingAndGlyphs"><tspan fill="#555555" stroke="#555555">O</tspan><tspan fill="#1f5f3a">79.54245</tspan></text><text x="330.53" y="59.0" font-size="14.8" font-weight="normal" fill="#1f5f3a" stroke="#1f5f3a" stroke-width="0.25" textLength="70.57" lengthAdjust="spacingAndGlyphs"><tspan fill="#555555" stroke="#555555">H</tspan><tspan fill="#1f5f3a">81.67645</tspan></text><text x="409.81" y="59.0" font-size="14.8" font-weight="normal" fill="#1f5f3a" stroke="#1f5f3a" stroke-width="0.25" textLength="69.34" lengthAdjust="spacingAndGlyphs"><tspan fill="#555555" stroke="#555555">L</tspan><tspan fill="#1f5f3a">78.51390</tspan></text><text x="486.72" y="59.0" font-size="14.8" font-weight="normal" fill="#1f5f3a" stroke="#1f5f3a" stroke-width="0.25" textLength="70.88" lengthAdjust="spacingAndGlyphs"><tspan fill="#555555" stroke="#555555">C</tspan><tspan fill="#1f5f3a">81.30760</tspan></text><text x="565.94" y="59.0" font-size="14.8" font-weight="normal" fill="#1f5f3a" stroke="#1f5f3a" stroke-width="0.25" textLength="59.39" lengthAdjust="spacingAndGlyphs">+3.36060</text><text x="631.27" y="59.0" font-size="14.8" font-weight="normal" fill="#1f5f3a" stroke="#1f5f3a" stroke-width="0.25" textLength="56.46" lengthAdjust="spacingAndGlyphs">(+4.31%)</text><text x="1712.65" y="59.8" font-size="15.0" font-weight="normal" fill="#131722" stroke="#131722" stroke-width="0.25" textLength="26.82" lengthAdjust="spacingAndGlyphs">USD</text><text x="141.7" y="782.9" font-size="18" font-weight="normal" fill="#505050" stroke="#505050" stroke-width="0.25" textLength="27.48" lengthAdjust="spacingAndGlyphs">Jun</text><text x="303.3" y="782.9" font-size="18" font-weight="normal" fill="#505050" stroke="#505050" stroke-width="0.25" textLength="23.54" lengthAdjust="spacingAndGlyphs">Jul</text><text x="475.2" y="782.9" font-size="18" font-weight="normal" fill="#505050" stroke="#505050" stroke-width="0.25" textLength="29.03" lengthAdjust="spacingAndGlyphs">Aug</text><text x="633.58" y="782.9" font-size="18" font-weight="normal" fill="#505050" stroke="#505050" stroke-width="0.25" textLength="29.36" lengthAdjust="spacingAndGlyphs">Sep</text><text x="800.8" y="782.9" font-size="18" font-weight="normal" fill="#505050" stroke="#505050" stroke-width="0.25" textLength="28.12" lengthAdjust="spacingAndGlyphs">Oct</text><text x="975.07" y="782.9" font-size="18" font-weight="normal" fill="#505050" stroke="#505050" stroke-width="0.25" textLength="29.74" lengthAdjust="spacingAndGlyphs">Nov</text><text x="1126.44" y="782.9" font-size="18" font-weight="normal" fill="#505050" stroke="#505050" stroke-width="0.25" textLength="30.73" lengthAdjust="spacingAndGlyphs">Dec</text><text x="1288.36" y="782.9" font-size="18" font-weight="bold" fill="#505050" textLength="41.73" lengthAdjust="spacingAndGlyphs">2026</text><text x="1452.72" y="782.9" font-size="18" font-weight="normal" fill="#505050" stroke="#505050" stroke-width="0.25" textLength="30.39" lengthAdjust="spacingAndGlyphs">Feb</text><text x="1604.75" y="782.9" font-size="18" font-weight="normal" fill="#505050" stroke="#505050" stroke-width="0.25" textLength="29.45" lengthAdjust="spacingAndGlyphs">Mar</text><text x="1527.2" y="200.8" font-size="17.5" font-weight="bold" fill="#ffffff" textLength="57.77" lengthAdjust="spacingAndGlyphs">Biggest</text><text x="1590.02" y="200.8" font-size="17.5" font-weight="bold" fill="#ffffff" textLength="62.1" lengthAdjust="spacingAndGlyphs">historic</text><text x="1526.72" y="218.6" font-size="17.5" font-weight="bold" fill="#ffffff" textLength="33.3" lengthAdjust="spacingAndGlyphs">One</text><text x="1565.37" y="218.6" font-size="17.5" font-weight="bold" fill="#ffffff" textLength="29.93" lengthAdjust="spacingAndGlyphs">Day</text><text x="1600.03" y="218.6" font-size="17.5" font-weight="bold" fill="#ffffff" textLength="39.57" lengthAdjust="spacingAndGlyphs">Drop</text><text x="1569.58" y="435.1" font-size="15.8" font-weight="bold" fill="#f23645" textLength="39.42" lengthAdjust="spacingAndGlyphs">Minor</text><text x="1569.45" y="495.9" font-size="18.5" font-weight="bold" fill="#f23645" textLength="46.67" lengthAdjust="spacingAndGlyphs">Major</text><text x="1576.25" y="567.5" font-size="18.5" font-weight="bold" fill="#f23645" textLength="47.08" lengthAdjust="spacingAndGlyphs">Major</text><text x="62.0" y="842.9" font-size="26" font-weight="bold" fill="#131313" textLength="150.99" lengthAdjust="spacingAndGlyphs">TradingView</text><text x="1709.19" y="88.8" font-size="18.5" font-weight="normal" fill="#4a4a4a" stroke="#4a4a4a" stroke-width="0.25" textLength="79.93" lengthAdjust="spacingAndGlyphs">120.00000</text><text x="1709.16" y="160.9" font-size="18.5" font-weight="normal" fill="#4a4a4a" stroke="#4a4a4a" stroke-width="0.25" textLength="80.54" lengthAdjust="spacingAndGlyphs">110.00000</text><text x="1709.19" y="233.1" font-size="18.5" font-weight="normal" fill="#4a4a4a" stroke="#4a4a4a" stroke-width="0.25" textLength="79.93" lengthAdjust="spacingAndGlyphs">100.00000</text><text x="1709.18" y="305.2" font-size="18.5" font-weight="normal" fill="#4a4a4a" stroke="#4a4a4a" stroke-width="0.25" textLength="71.1" lengthAdjust="spacingAndGlyphs">90.00000</text><text x="1709.18" y="377.3" font-size="18.5" font-weight="normal" fill="#4a4a4a" stroke="#4a4a4a" stroke-width="0.25" textLength="71.1" lengthAdjust="spacingAndGlyphs">80.00000</text><text x="1709.18" y="449.4" font-size="18.5" font-weight="normal" fill="#4a4a4a" stroke="#4a4a4a" stroke-width="0.25" textLength="71.1" lengthAdjust="spacingAndGlyphs">70.00000</text><text x="1709.18" y="521.6" font-size="18.5" font-weight="normal" fill="#4a4a4a" stroke="#4a4a4a" stroke-width="0.25" textLength="71.1" lengthAdjust="spacingAndGlyphs">60.00000</text><text x="1709.18" y="593.7" font-size="18.5" font-weight="normal" fill="#4a4a4a" stroke="#4a4a4a" stroke-width="0.25" textLength="71.1" lengthAdjust="spacingAndGlyphs">50.00000</text><text x="1710.1" y="665.8" font-size="18.5" font-weight="normal" fill="#4a4a4a" stroke="#4a4a4a" stroke-width="0.25" textLength="70.17" lengthAdjust="spacingAndGlyphs">40.00000</text><text x="1709.18" y="738.0" font-size="18.5" font-weight="normal" fill="#4a4a4a" stroke="#4a4a4a" stroke-width="0.25" textLength="71.1" lengthAdjust="spacingAndGlyphs">30.00000</text><path d="M1698 349 H1784 a3 3 0 0 1 3 3 V371 a3 3 0 0 1 -3 3 H1698 Z" fill="#4caf50"/><text x="1709.36" y="368.0" font-size="18.5" font-weight="bold" fill="#ffffff" textLength="72.64" lengthAdjust="spacingAndGlyphs">81.30760</text></svg>
</body></html>
